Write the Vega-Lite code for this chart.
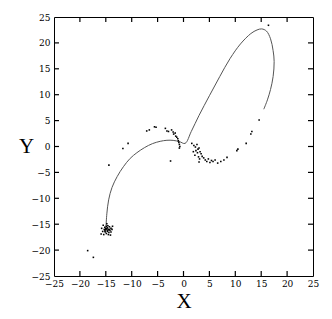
{
  "$schema": "https://vega.github.io/schema/vega-lite/v6.json",
  "autosize": {"type": "none"},
  "padding": {"left": 54, "top": 17, "right": 19, "bottom": 43},
  "width": 259,
  "height": 259,
  "background": "white",
  "config": {
    "view": {"stroke": "black", "strokeWidth": 1},
    "axis": {
      "grid": false, "domain": false, "ticks": false, "tickSize": 0,
      "labelFont": "DejaVu Serif", "labelFontSize": 9, "labelColor": "black",
      "titleFont": "Liberation Serif", "titleFontSize": 21, "titleFontWeight": "normal", "titleColor": "black"
    }
  },
  "datasets": {
    "tickvals": [{"v": -20}, {"v": -15}, {"v": -10}, {"v": -5}, {"v": 0}, {"v": 5}, {"v": 10}, {"v": 15}, {"v": 20}],
    "curve": [
      {"i": 0, "x": -14.96, "y": -15.5}, {"i": 1, "x": -14.8, "y": -13}, {"i": 2, "x": -14.45, "y": -10.3},
      {"i": 3, "x": -13.8, "y": -7.9}, {"i": 4, "x": -12.8, "y": -5.8}, {"i": 5, "x": -11.6, "y": -3.9},
      {"i": 6, "x": -10.3, "y": -2.3}, {"i": 7, "x": -9, "y": -1.2}, {"i": 8, "x": -7.5, "y": -0.2},
      {"i": 9, "x": -6, "y": 0.55}, {"i": 10, "x": -4.5, "y": 1.0}, {"i": 11, "x": -3.2, "y": 1.2},
      {"i": 12, "x": -2, "y": 1.18}, {"i": 13, "x": -0.8, "y": 0.95}, {"i": 14, "x": 0.3, "y": 0.6},
      {"i": 15, "x": 1.5, "y": 2.9}, {"i": 16, "x": 3, "y": 6.0}, {"i": 17, "x": 5, "y": 9.8},
      {"i": 18, "x": 7, "y": 13.5}, {"i": 19, "x": 9, "y": 17}, {"i": 20, "x": 11, "y": 19.8},
      {"i": 21, "x": 13, "y": 21.8}, {"i": 22, "x": 14.2, "y": 22.5}, {"i": 23, "x": 15.1, "y": 22.7},
      {"i": 24, "x": 16, "y": 22.3}, {"i": 25, "x": 16.8, "y": 20.8}, {"i": 26, "x": 17.3, "y": 18.5},
      {"i": 27, "x": 17.5, "y": 16.4}, {"i": 28, "x": 17.3, "y": 13.5}, {"i": 29, "x": 16.8, "y": 11},
      {"i": 30, "x": 16.2, "y": 9}, {"i": 31, "x": 15.5, "y": 7.2}
    ],
    "pts": [
      {"x": -14.4, "y": -3.6}, {"x": -11.7, "y": -0.4}, {"x": -10.7, "y": 0.6}, {"x": -7.1, "y": 3.0},
      {"x": -6.6, "y": 3.2}, {"x": -5.6, "y": 3.8}, {"x": -5.3, "y": 3.7}, {"x": -3.5, "y": 3.5},
      {"x": -3.2, "y": 3.0}, {"x": -2.9, "y": 2.9}, {"x": -2.3, "y": 3.2}, {"x": -2.0, "y": 2.8},
      {"x": -1.9, "y": 2.4}, {"x": -1.6, "y": 2.6}, {"x": -1.5, "y": 2.0}, {"x": -1.3, "y": 1.8},
      {"x": -1.1, "y": 1.5}, {"x": -1.0, "y": 1.1}, {"x": -0.9, "y": 0.8}, {"x": -0.8, "y": 0.4},
      {"x": -0.7, "y": 0.0}, {"x": -0.8, "y": -0.3}, {"x": -2.5, "y": -2.8},
      {"x": 1.6, "y": 0.6}, {"x": 2.0, "y": 0.2}, {"x": 2.3, "y": -0.1}, {"x": 2.6, "y": 0.4},
      {"x": 2.8, "y": -0.5}, {"x": 3.0, "y": -0.3}, {"x": 2.4, "y": -0.8}, {"x": 1.9, "y": -1.0},
      {"x": 2.7, "y": -1.2}, {"x": 3.2, "y": -1.0}, {"x": 3.4, "y": -1.4}, {"x": 2.2, "y": -1.7},
      {"x": 2.9, "y": -2.0}, {"x": 3.1, "y": -2.4}, {"x": 3.6, "y": -1.9}, {"x": 3.0, "y": -3.0},
      {"x": 3.9, "y": -2.2}, {"x": 4.2, "y": -2.6}, {"x": 4.5, "y": -2.9}, {"x": 4.8, "y": -2.4},
      {"x": 5.1, "y": -3.1}, {"x": 5.4, "y": -2.7}, {"x": 5.7, "y": -2.9}, {"x": 6.1, "y": -2.6},
      {"x": 6.6, "y": -3.2}, {"x": 7.2, "y": -2.9}, {"x": 7.8, "y": -2.6}, {"x": 8.4, "y": -2.1},
      {"x": 10.3, "y": -0.8}, {"x": 10.5, "y": -0.5}, {"x": 12.1, "y": 0.6}, {"x": 13.0, "y": 2.4},
      {"x": 13.2, "y": 2.9}, {"x": 14.6, "y": 5.1}, {"x": 16.4, "y": 23.4},
      {"x": -15.5, "y": -15.2}, {"x": -15.2, "y": -15.6}, {"x": -14.9, "y": -15.4}, {"x": -14.6, "y": -15.3},
      {"x": -14.3, "y": -15.5}, {"x": -14.0, "y": -15.8}, {"x": -15.3, "y": -16.0}, {"x": -15.0, "y": -16.1},
      {"x": -14.8, "y": -15.9}, {"x": -14.5, "y": -16.0}, {"x": -14.2, "y": -16.2}, {"x": -15.6, "y": -16.4},
      {"x": -15.1, "y": -16.5}, {"x": -14.7, "y": -16.4}, {"x": -14.4, "y": -16.6}, {"x": -14.0, "y": -16.5},
      {"x": -15.8, "y": -15.8}, {"x": -14.9, "y": -16.8}, {"x": -14.5, "y": -17.0}, {"x": -13.8, "y": -16.0},
      {"x": -15.4, "y": -17.0}, {"x": -14.1, "y": -17.1}, {"x": -13.7, "y": -15.4}, {"x": -15.9, "y": -16.9},
      {"x": -14.8, "y": -14.9}, {"x": -14.6, "y": -16.2}, {"x": -15.0, "y": -15.8}, {"x": -14.7, "y": -15.7},
      {"x": -14.3, "y": -16.0}, {"x": -15.2, "y": -16.3},
      {"x": -18.5, "y": -20.1}, {"x": -17.4, "y": -21.4}
    ]
  },
  "encoding": {
    "x": {"type": "quantitative", "scale": {"domain": [-25, 25], "nice": false},
          "axis": {"orient": "bottom", "values": [-25,-20,-15,-10,-5,0,5,10,15,20,25], "labelPadding": 3, "labelFlush": false,
                   "title": "X", "titleY": 31, "titleBaseline": "alphabetic"}},
    "y": {"type": "quantitative", "scale": {"domain": [-25, 25], "nice": false},
          "axis": {"orient": "left", "values": [-25,-20,-15,-10,-5,0,5,10,15,20,25], "labelPadding": 4, "labelFlush": false,
                   "title": "Y", "titleAngle": 0, "titleX": -28, "titleY": 129.5, "titleAlign": "center", "titleBaseline": "middle"}}
  },
  "layer": [
    {
      "data": {"name": "tickvals"},
      "mark": {"type": "tick", "orient": "vertical", "color": "black", "size": 5, "thickness": 1.2, "opacity": 1},
      "encoding": {"x": {"field": "v", "type": "quantitative"}, "y": {"datum": -24.52, "type": "quantitative"}}
    },
    {
      "data": {"name": "tickvals"},
      "mark": {"type": "tick", "orient": "vertical", "color": "black", "size": 5, "thickness": 1.2, "opacity": 1},
      "encoding": {"x": {"field": "v", "type": "quantitative"}, "y": {"datum": 24.52, "type": "quantitative"}}
    },
    {
      "data": {"name": "tickvals"},
      "mark": {"type": "tick", "orient": "horizontal", "color": "black", "size": 5, "thickness": 1.2, "opacity": 1},
      "encoding": {"y": {"field": "v", "type": "quantitative"}, "x": {"datum": -24.52, "type": "quantitative"}}
    },
    {
      "data": {"name": "tickvals"},
      "mark": {"type": "tick", "orient": "horizontal", "color": "black", "size": 5, "thickness": 1.2, "opacity": 1},
      "encoding": {"y": {"field": "v", "type": "quantitative"}, "x": {"datum": 24.52, "type": "quantitative"}}
    },
    {
      "data": {"name": "curve"},
      "mark": {"type": "line", "color": "#555555", "strokeWidth": 1, "interpolate": "catmull-rom"},
      "encoding": {
        "x": {"field": "x"},
        "y": {"field": "y"},
        "order": {"field": "i", "type": "quantitative"}
      }
    },
    {
      "data": {"name": "pts"},
      "mark": {"type": "square", "color": "black", "size": 2.5, "opacity": 1},
      "encoding": {"x": {"field": "x"}, "y": {"field": "y"}}
    }
  ]
}
